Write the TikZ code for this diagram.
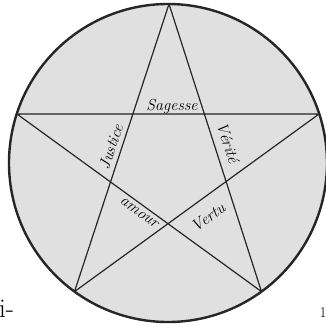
\documentclass[tikz,border=0pt]{standalone}
\usepackage{fontspec}
\tikzset{
  ring/.style={draw=black!85, line width=2.4pt, fill=black!12},
  starline/.style={draw=black!85, line width=1.2pt, line join=round},
  lbl/.style={inner sep=0pt, text=black, font=\fontsize{16}{16}\selectfont\itshape},
  frag/.style={inner sep=0pt, anchor=base west},
}
\begin{document}
\begin{tikzpicture}[x=1pt,y=-1pt]
\useasboundingbox (0,0) rectangle (326,330);
\fill[white] (0,0) rectangle (326,330);
\node[ring, circle, minimum size=318pt, inner sep=0pt] (c) at (168,163) {};
\coordinate (top) at (169,4);
\coordinate (rt) at (319.2,113.9);
\coordinate (lf) at (16.8,113.9);
\coordinate (bl) at (74.5,291.6);
\coordinate (br) at (261.5,291.6);
\draw[starline] (top) -- (bl) -- (rt) -- (lf) -- (br) -- cycle;
\node[lbl] (sag) at (172,106) {Sagesse};
\node[lbl, rotate=71.6] (jus) at (111,147) {Justice};
\node[lbl, rotate=-72] (ver) at (228,143) {Vérité};
\node[lbl, rotate=-36] (amo) at (139,213) {amour};
\node[lbl, rotate=36] (vtu) at (208,217) {Vertu};
\node[frag, font=\fontsize{27}{27}\selectfont] (f1) at (-1,317) {i-};
\node[frag, font=\fontsize{15}{15}\selectfont] (f2) at (319.5,317) {1};
\end{tikzpicture}
\end{document}
